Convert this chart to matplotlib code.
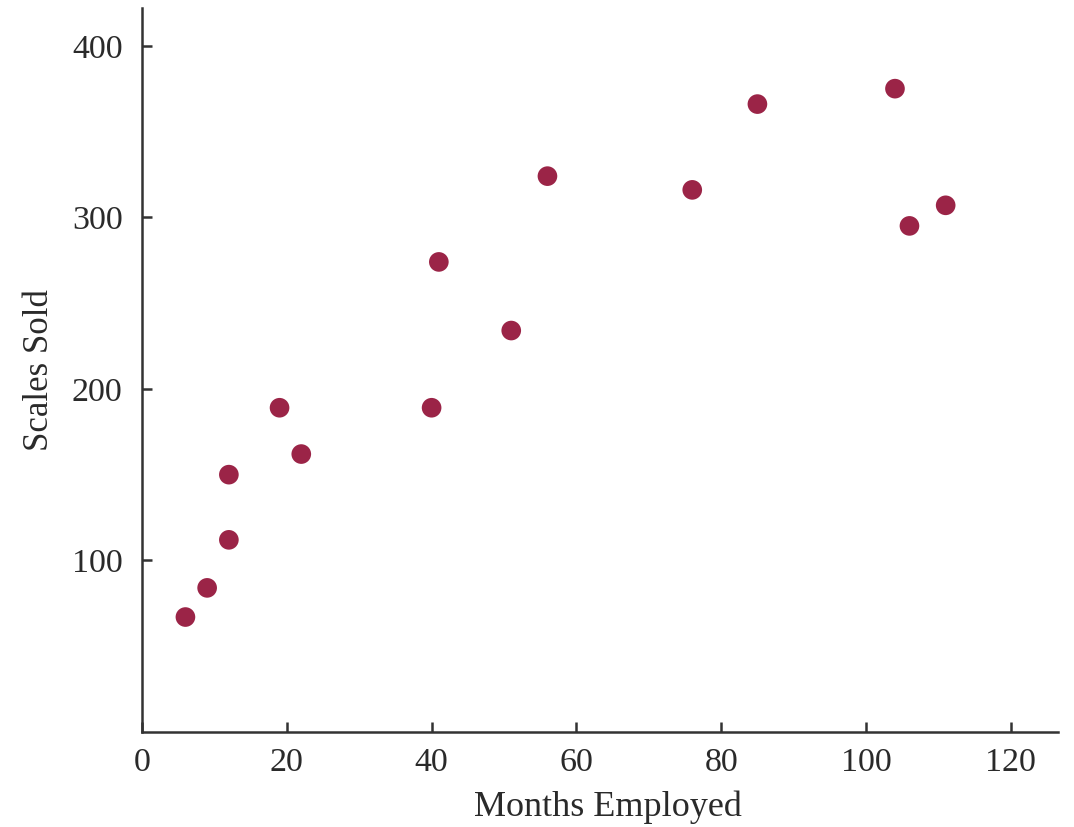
import matplotlib
matplotlib.use('Agg')
from matplotlib import pyplot as plt

months = [6, 9, 12, 12, 19, 22, 40, 41, 51, 56, 76, 85, 104, 106, 111]
scales = [67, 84, 112, 150, 189, 162, 189, 274, 234, 324, 316, 366, 375, 295, 307]

plt.rcParams['font.family'] = ['Liberation Serif', 'DejaVu Serif']

fig = plt.figure(figsize=(10.74, 8.27), dpi=100)
ax = fig.add_axes([0.1322, 0.1149, 0.8528, 0.8754])
ax.scatter(months, scales, s=200, color='#9b2447', edgecolors='none', zorder=3)

ax.set_xlim(0, 126.5)
ax.set_ylim(0, 422)
ax.set_xticks([0, 20, 40, 60, 80, 100, 120])
ax.set_yticks([100, 200, 300, 400])
for s in ['top', 'right']:
    ax.spines[s].set_visible(False)
for s in ['left', 'bottom']:
    ax.spines[s].set_linewidth(1.8)
    ax.spines[s].set_color('#333333')
ax.tick_params(direction='in', length=7, width=1.8, color='#333333',
               labelsize=24.5, labelcolor='#2a2a2a')
ax.tick_params(axis='y', pad=14)
ax.tick_params(axis='x', pad=11)
ax.set_xlabel('Months Employed', fontsize=26, color='#2a2a2a')
ax.set_ylabel('Scales Sold', fontsize=25, color='#2a2a2a')
ax.xaxis.set_label_coords(0.509, -0.081)
ax.yaxis.set_label_coords(-0.094, 0.5)

fig.savefig('out.png', dpi=100)
